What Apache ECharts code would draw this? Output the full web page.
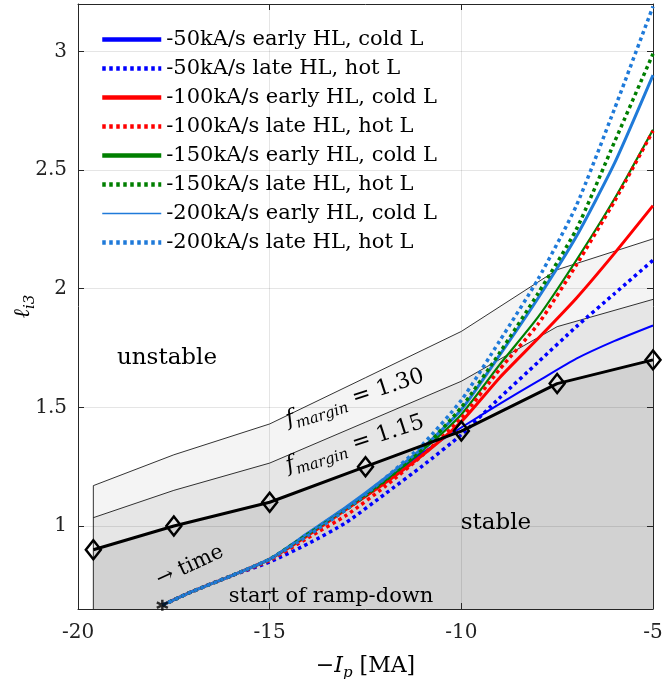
<!DOCTYPE html>
<html>
<head>
<meta charset="utf-8">
<script src="https://cdn.jsdelivr.net/npm/echarts@6/dist/echarts.min.js"></script>
<style>html,body{margin:0;padding:0;background:#fff}#chart{width:662px;height:679px}</style>
</head>
<body>
<div id="chart"></div>
<script>
// stability boundary and the two margin curves
const bndX = [-19.6, -17.5, -15, -12.5, -10, -7.5, -5];
const bndStable = [0.9, 1.0, 1.1, 1.25, 1.4, 1.6, 1.7];
const bnd115 = [1.035, 1.15, 1.265, 1.4375, 1.61, 1.84, 1.955];
const bnd130 = [1.17, 1.3, 1.43, 1.625, 1.82, 2.08, 2.21];

// ramp-down trajectories
const trajX    = [-17.8, -17, -16, -15, -14, -13, -12, -11, -10, -9, -8, -7, -6, -5];
const early50  = [0.666, 0.725, 0.79, 0.86, 0.97, 1.08, 1.19, 1.31, 1.415, 1.515, 1.61, 1.705, 1.78, 1.845];
const late50   = [0.666, 0.725, 0.79, 0.848, 0.925, 1.015, 1.134, 1.255, 1.385, 1.54, 1.69, 1.84, 1.98, 2.12];
const early100 = [0.666, 0.725, 0.79, 0.86, 0.96, 1.07, 1.18, 1.30, 1.44, 1.625, 1.79, 1.96, 2.15, 2.35];
const late100  = [0.666, 0.725, 0.79, 0.855, 0.95, 1.045, 1.165, 1.30, 1.455, 1.66, 1.85, 2.10, 2.37, 2.665];
const early150 = [0.666, 0.725, 0.79, 0.86, 0.965, 1.075, 1.19, 1.32, 1.47, 1.68, 1.88, 2.12, 2.38, 2.67];
const late150  = [0.666, 0.725, 0.79, 0.86, 0.965, 1.07, 1.19, 1.325, 1.50, 1.73, 1.98, 2.25, 2.62, 2.99];
const early200 = [0.666, 0.725, 0.79, 0.86, 0.97, 1.08, 1.20, 1.33, 1.49, 1.72, 1.96, 2.22, 2.53, 2.90];
const late200  = [0.666, 0.725, 0.79, 0.86, 0.96, 1.07, 1.20, 1.345, 1.53, 1.78, 2.04, 2.35, 2.76, 3.19];

const xTicks = [-20, -15, -10, -5];
const yTicks = [1, 1.5, 2, 2.5, 3];
const yMin = 0.65, yMax = 3.2;

const FONT = 'DejaVu Serif';
const BLUE = '#0000ff', RED = '#ff0000', GREEN = '#007f00', LBLUE = '#1f7ad9';
const DOT = [3.5, 3.5];

const chart = echarts.init(document.getElementById('chart'));

function pts(xs, ys) { return xs.map((x, i) => [x, ys[i]]); }

function traj(name, ys, color, width, dotted, z) {
    return {
        type: 'line', name, data: pts(trajX, ys), symbol: 'none',
        smooth: 0.2, z,
        itemStyle: { color },
        lineStyle: { color, width, type: dotted ? DOT : 'solid', join: 'round' },
        emphasis: { disabled: true }
    };
}

function band(ys, color, lineW) {
    return {
        type: 'line', data: pts(bndX, ys), symbol: 'none', z: 1, silent: true,
        lineStyle: { color: '#000', width: lineW },
        areaStyle: { color, opacity: 1, origin: 'start' }
    };
}

const names = [
    '-50kA/s early HL, cold L', '-50kA/s late HL, hot L',
    '-100kA/s early HL, cold L', '-100kA/s late HL, hot L',
    '-150kA/s early HL, cold L', '-150kA/s late HL, hot L',
    '-200kA/s early HL, cold L', '-200kA/s late HL, hot L'
];

const subRich = {
    n: { fontFamily: FONT, fontSize: 22, color: '#000' },
    i: { fontFamily: FONT, fontSize: 22, fontStyle: 'italic', color: '#000' },
    s: { fontFamily: FONT, fontSize: 15, fontStyle: 'italic', color: '#000', padding: [14, 0, 0, 0] }
};

chart.setOption({
    animation: false,
    grid: { left: 78, right: 9, top: 4, bottom: 70, outerBoundsMode: 'none', containLabel: false },
    legend: {
        orient: 'vertical', left: 100, top: 29, padding: 0,
        itemWidth: 59, itemHeight: 14, itemGap: 8,
        itemStyle: { color: 'rgba(0,0,0,0)', borderColor: 'rgba(0,0,0,0)', borderWidth: 0 },
        textStyle: { fontFamily: FONT, fontSize: 21, color: '#000', lineHeight: 21 },
        data: names.map((n, i) => ({
            name: n,
            itemStyle: { color: 'rgba(0,0,0,0)', borderColor: 'rgba(0,0,0,0)', borderWidth: 0 },
            lineStyle: { width: i === 6 ? 1.5 : 4.5 }
        }))
    },
    xAxis: [{
        type: 'value', min: -20, max: -5, interval: 5, z: 2,
        name: '{n|−}{i|I}{s|p}{n| [MA]}', nameLocation: 'middle', nameGap: 43, nameMoveOverlap: false,
        nameTextStyle: { rich: subRich },
        axisLine: { lineStyle: { color: '#262626' } },
        axisTick: { inside: true, length: 6, lineStyle: { color: '#262626' } },
        axisLabel: { fontFamily: FONT, fontSize: 20, color: '#222', margin: 14 },
        splitLine: { lineStyle: { color: 'rgba(0,0,0,0.1)' } }
    }, {
        type: 'value', position: 'top', min: -20, max: -5, interval: 5, z: 2,
        axisLine: { show: true, lineStyle: { color: '#262626' } },
        axisTick: { inside: true, length: 6, lineStyle: { color: '#262626' } },
        axisLabel: { show: false }, splitLine: { show: false }
    }],
    yAxis: [{
        type: 'value', min: yMin, max: yMax, z: 2,
        name: '{i|ℓ}{s|i3}', nameLocation: 'middle', nameGap: 40, nameRotate: 90, nameMoveOverlap: false,
        nameTextStyle: { rich: subRich },
        axisLine: { show: true, lineStyle: { color: '#262626' } },
        axisTick: { show: true, inside: true, length: 6, customValues: yTicks, lineStyle: { color: '#262626' } },
        axisLabel: { fontFamily: FONT, fontSize: 20, color: '#222', margin: 11, customValues: yTicks },
        splitLine: { lineStyle: { color: 'rgba(0,0,0,0.1)' } }
    }, {
        type: 'value', position: 'right', min: yMin, max: yMax, z: 2,
        axisLine: { show: true, lineStyle: { color: '#262626' } },
        axisTick: { show: true, inside: true, length: 6, customValues: yTicks, lineStyle: { color: '#262626' } },
        axisLabel: { show: false }, splitLine: { show: false }
    }],
    series: [
        band(bnd130, '#f4f4f4', 0.8),
        band(bnd115, '#e6e6e6', 0.8),
        band(bndStable, '#d2d2d2', 0),
        {
            type: 'line', data: [[bndX[0], yMin], [bndX[0], bnd130[0]]], symbol: 'none', z: 1,
            silent: true, lineStyle: { color: '#000', width: 0.8 }
        },
        traj(names[0], early50, BLUE, 2, false, 3),
        traj(names[1], late50, BLUE, 3.5, true, 4),
        traj(names[2], early100, RED, 3, false, 3),
        traj(names[3], late100, RED, 3.5, true, 4),
        traj(names[4], early150, GREEN, 2.2, false, 3),
        traj(names[5], late150, GREEN, 3.5, true, 4),
        traj(names[6], early200, LBLUE, 3, false, 3),
        traj(names[7], late200, LBLUE, 3.5, true, 4),
        {
            type: 'line', data: pts(bndX, bndStable), z: 6, silent: true,
            symbol: 'diamond', symbolSize: [15, 19], showSymbol: true,
            itemStyle: { color: 'rgba(0,0,0,0)', borderColor: '#000', borderWidth: 2.5 },
            lineStyle: { color: '#000', width: 3 }
        },
        {
            type: 'scatter', data: [[trajX[0], early50[0]]], z: 7, silent: true,
            symbol: 'path://M0,-6L0,6M-5.2,-3L5.2,3M-5.2,3L5.2,-3', symbolSize: 11,
            itemStyle: { color: 'rgba(0,0,0,0)', borderColor: '#000', borderWidth: 2.5 }
        }
    ],
    graphic: [
        { type: 'text', x: 167, y: 358, z: 100, style: { text: 'unstable', fontFamily: FONT, fontSize: 23, fill: '#000', align: 'center', verticalAlign: 'middle' } },
        { type: 'text', x: 496, y: 523, z: 100, style: { text: 'stable', fontFamily: FONT, fontSize: 23, fill: '#000', align: 'center', verticalAlign: 'middle' } },
        { type: 'text', x: 331, y: 597, z: 100, style: { text: 'start of ramp-down', fontFamily: FONT, fontSize: 21, fill: '#000', align: 'center', verticalAlign: 'middle' } },
        { type: 'text', x: 190, y: 566, z: 100, rotation: 25 * Math.PI / 180, style: { text: '→ time', fontFamily: FONT, fontSize: 21, fill: '#000', align: 'center', verticalAlign: 'middle' } },
        { type: 'text', x: 355, y: 398, z: 100, rotation: 18 * Math.PI / 180, style: { text: '{i|f}{s|margin}{n| = 1.30}', rich: subRich, align: 'center', verticalAlign: 'middle' } },
        { type: 'text', x: 355, y: 444, z: 100, rotation: 18 * Math.PI / 180, style: { text: '{i|f}{s|margin}{n| = 1.15}', rich: subRich, align: 'center', verticalAlign: 'middle' } }
    ]
});
</script>
</body>
</html>
